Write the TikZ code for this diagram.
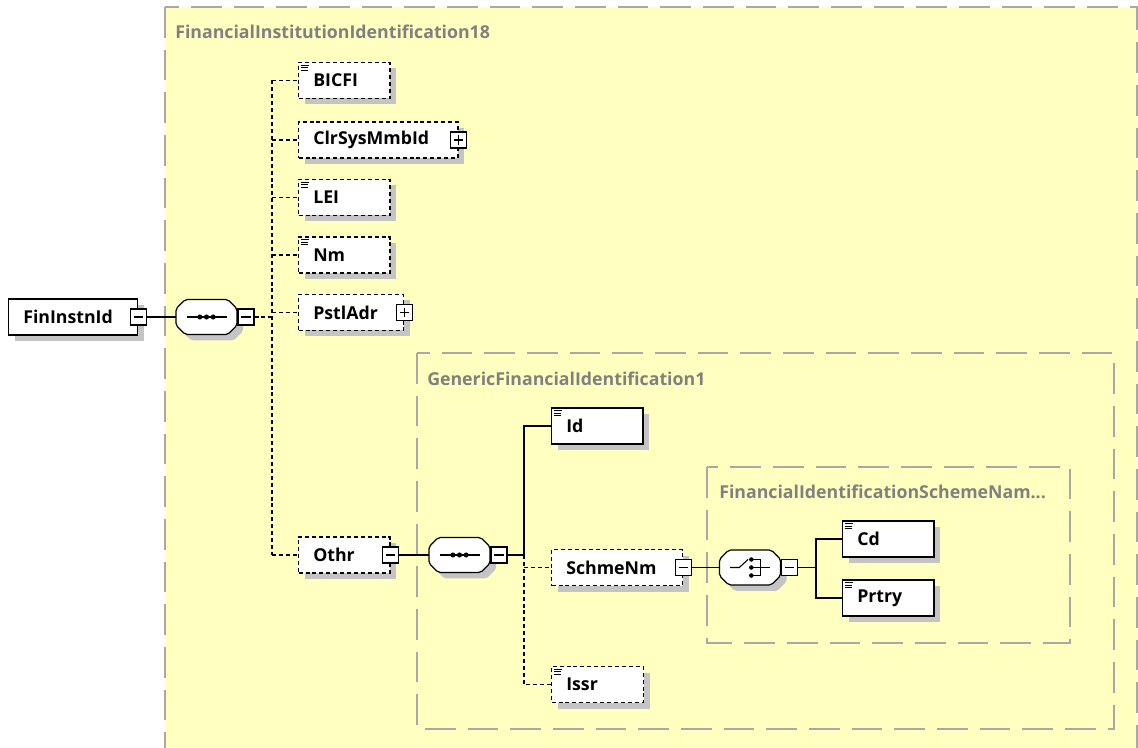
\documentclass[tikz,border=0pt]{standalone}
\usepackage{fontspec}
\setmainfont{Open Sans}
\usepackage{tikz}
\usetikzlibrary{positioning,shadows,calc}

\definecolor{groupfill}{RGB}{255,255,192}
\definecolor{groupline}{RGB}{168,168,168}
\definecolor{titlegray}{RGB}{128,128,128}
\definecolor{shadowgray}{RGB}{196,196,196}

% octagon of a compositor, around its centre
\newcommand\octagonpts{(-22.9pt,6.1pt) -- (-15.9pt,13.1pt) -- (15.9pt,13.1pt) -- (22.9pt,6.1pt)
  -- (22.9pt,-6.1pt) -- (15.9pt,-13.1pt) -- (-15.9pt,-13.1pt) -- (-22.9pt,-6.1pt) -- cycle}

\tikzset{
  labelfont/.style={font=\fontsize{13.3}{15}\selectfont\bfseries},
  elem/.style={draw, line width=0.9pt, fill=white, anchor=west, text width=#1,
    align=left, inner xsep=11pt, minimum height=27pt, labelfont,
    drop shadow={shadow xshift=4.5pt, shadow yshift=-4.5pt, fill=shadowgray, opacity=1}},
  opt/.style={dash pattern=on 3pt off 2.2pt},
  simple/.style={path picture={
    \draw[solid, line width=0.5pt] ([shift={(2pt,-2pt)}]path picture bounding box.north west) -- ++(6pt,0pt)
      ++(-6pt,-1.8pt) -- ++(5pt,0pt) ++(-5pt,-1.8pt) -- ++(5pt,0pt);}},
  toggle/.style={draw, solid, fill=white, line width=0.9pt, minimum size=12pt, inner sep=0pt},
  collapse/.style={toggle, path picture={
    \draw[line width=0.8pt] ([xshift=-3.5pt]path picture bounding box.center) -- ([xshift=3.5pt]path picture bounding box.center);}},
  expand/.style={toggle, path picture={
    \draw[line width=0.8pt] ([xshift=-3.5pt]path picture bounding box.center) -- ([xshift=3.5pt]path picture bounding box.center);
    \draw[line width=0.8pt] ([yshift=-3.5pt]path picture bounding box.center) -- ([yshift=3.5pt]path picture bounding box.center);}},
  compbox/.style={minimum width=45.8pt, minimum height=26.2pt, inner sep=0pt},
  seqsym/.pic={
    \fill[shadowgray, rounded corners=1.5pt, shift={(4.5pt,-4.5pt)}] \octagonpts;
    \draw[line width=0.9pt, fill=white, rounded corners=1.5pt] \octagonpts;
    \draw[line width=0.8pt] (-15pt,0pt) -- (15pt,0pt);
    \foreach \dx in {-5,0,5} \fill (\dx pt,0pt) circle (1.9pt);
    \node[compbox] (-box) at (0pt,0pt) {};
  },
  choicesym/.pic={
    \fill[shadowgray, rounded corners=1.5pt, shift={(4.5pt,-4.5pt)}] \octagonpts;
    \draw[line width=0.9pt, fill=white, rounded corners=1.5pt] \octagonpts;
    \draw[line width=0.8pt] (-15pt,0pt) -- (-8pt,0pt) -- (-1.5pt,6pt);
    \draw[line width=0.8pt] (1pt,6pt) -- (8pt,6pt) -- (8pt,-6pt) -- (1pt,-6pt);
    \draw[line width=0.8pt] (1pt,0pt) -- (15pt,0pt);
    \foreach \dy in {-6,0,6} \fill (1pt,\dy pt) circle (1.7pt);
    \node[compbox] (-box) at (0pt,0pt) {};
  },
  conn/.style={line width=0.9pt},
  optconn/.style={conn, dash pattern=on 3pt off 2.2pt},
  group/.style={draw=groupline, fill=groupfill, line width=1.4pt, dash pattern=on 23pt off 9pt},
  grouptitle/.style={anchor=west, text=titlegray, inner sep=0pt, labelfont}
}

\begin{document}
\begin{tikzpicture}[x=0.75pt, y=-0.75pt]
  \useasboundingbox (0,0) rectangle (1138,748);
  \clip (0,0) rectangle (1138,748);
  \fill[white] (0,0) rectangle (1138,748);

  % complex type groups
  \draw[group] (165,7) rectangle (1137,770);
  \node[grouptitle] (fiid-title) at (175,32) {FinancialInstitutionIdentification18};
  \draw[group] (417,353) rectangle (1114,729);
  \node[grouptitle] (gfid-title) at (427,379) {GenericFinancialIdentification1};
  \draw[group] (707,467) rectangle (1070,643);
  \node[grouptitle] (fisn-title) at (719,492) {FinancialIdentificationSchemeNam...};

  % root
  \node[elem=74.75pt] (fininstnid) at (8,317) {FinInstnId};
  \node[collapse] (fininstnid-tg) at (fininstnid.east) {};
  \pic (seq1) at (206.5,317) {seqsym};
  \node[collapse, anchor=west] (seq1-tg) at (seq1-box.east) {};

  % FinancialInstitutionIdentification18
  \node[elem=46.5pt, opt, simple] (bicfi) at (298,80.5) {BICFI};
  \node[elem=97.5pt, opt] (clrsys) at (298,140) {ClrSysMmbId};
  \node[expand] (clrsys-tg) at (clrsys.east) {};
  \node[elem=46.5pt, opt, simple] (lei) at (298,197.5) {LEI};
  \node[elem=46.5pt, opt, simple] (nm) at (298,255) {Nm};
  \node[elem=56.75pt, opt] (pstladr) at (298,312.5) {PstlAdr};
  \node[expand] (pstladr-tg) at (pstladr.east) {};
  \node[elem=46.5pt, opt] (othr) at (298,555) {Othr};
  \node[collapse] (othr-tg) at (othr.east) {};

  % GenericFinancialIdentification1
  \pic (seq2) at (459.5,555) {seqsym};
  \node[collapse, anchor=west] (seq2-tg) at (seq2-box.east) {};
  \node[elem=46.5pt, simple] (id) at (551,426) {Id};
  \node[elem=76.25pt, opt] (schmenm) at (551,567.5) {SchmeNm};
  \node[collapse] (schmenm-tg) at (schmenm.east) {};
  \node[elem=47pt, opt, simple] (issr) at (551,684.5) {Issr};

  % FinancialIdentificationSchemeName1Choice
  \pic (choice) at (750,567.5) {choicesym};
  \node[collapse, anchor=west] (choice-tg) at (choice-box.east) {};
  \node[elem=46.5pt, simple] (cd) at (842,539) {Cd};
  \node[elem=46.5pt, simple] (prtry) at (842,598) {Prtry};

  \coordinate (trunk1) at (272,317);
  \coordinate (trunk2) at (524,555);
  \coordinate (trunk3) at (816,567.5);

  \draw[conn] (fininstnid-tg.east) -- (seq1-box.west);
  \draw[optconn] (seq1-tg.east) -- (trunk1);
  \draw[optconn] (trunk1 |- bicfi.west) -- (trunk1 |- othr.west);
  \foreach \n in {bicfi,clrsys,lei,nm,pstladr,othr}
    \draw[optconn] (trunk1 |- \n.west) -- (\n.west);

  \draw[conn] (othr-tg.east) -- (seq2-box.west);
  \draw[conn] (seq2-tg.east) -- (trunk2) |- (id.west);
  \draw[optconn] (trunk2) -- (trunk2 |- issr.west) -- (issr.west);
  \draw[optconn] (trunk2 |- schmenm.west) -- (schmenm.west);

  \draw[conn] (schmenm-tg.east) -- (choice-box.west);
  \draw[conn] (choice-tg.east) -- (trunk3);
  \draw[conn] (trunk3) |- (cd.west);
  \draw[conn] (trunk3) |- (prtry.west);
\end{tikzpicture}
\end{document}
